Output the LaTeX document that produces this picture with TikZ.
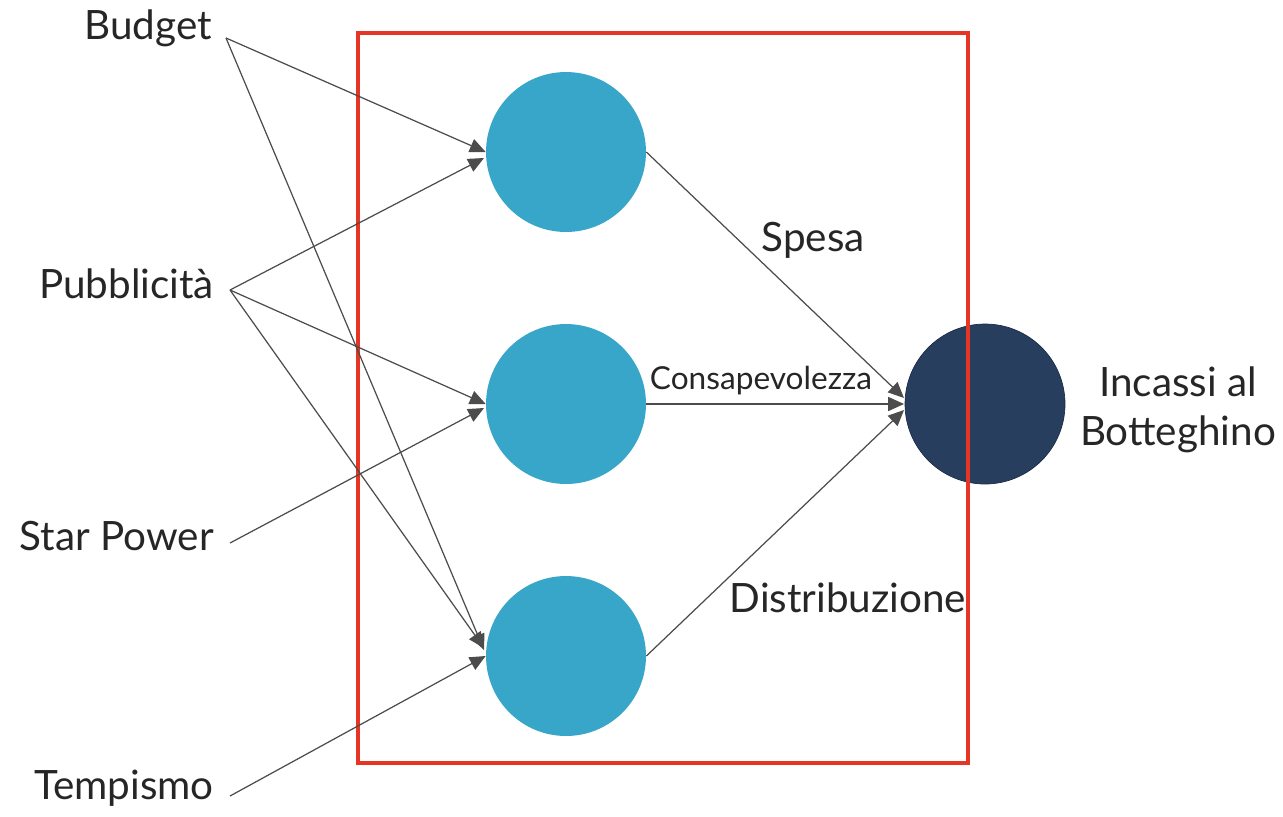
\documentclass[tikz,border=0pt]{standalone}
\usepackage{fontspec}
\setmainfont{Lato}
\usetikzlibrary{arrows.meta}
\definecolor{hid}{HTML}{38A6C8}
\definecolor{outc}{HTML}{283E5F}
\definecolor{redb}{HTML}{E53524}
\begin{document}
\begin{tikzpicture}[x=0.02cm,y=-0.02cm,
  hidn/.style={circle,fill=hid,minimum size=3.2cm,inner sep=0},
  outn/.style={circle,fill=outc,draw=outc!70!black,minimum size=3.2cm,inner sep=0},
  lab/.style={font=\fontsize{23}{28}\selectfont,text=black!85},
  conn/.style={draw=black!70,line width=0.7pt,-{Triangle[length=9pt,width=8pt]}}]
\useasboundingbox (0,0) rectangle (1283,816);
\node[hidn] (h1) at (566,152) {};
\node[hidn] (h2) at (566,404) {};
\node[hidn] (h3) at (566,656) {};
\node[outn] (o) at (985,404) {};
\draw[redb,line width=2pt] (358,33) rectangle (968,763);
\node[lab,anchor=east] (b) at (218,28) {Budget};
\node[lab,anchor=east] (p) at (220,284) {Pubblicità};
\node[lab,anchor=east] (s) at (220,536) {Star Power};
\node[lab,anchor=east] (t) at (220,788) {Tempismo};
\node[lab,align=center] (inc) at (1178,410) {Incassi al\\Botteghino};
\coordinate (bs) at (226,38);
\coordinate (ps) at (230,290);
\coordinate (ss) at (230,543);
\coordinate (ts) at (230,796);
\draw[conn] (bs) -- (h1.west);
\draw[conn] (bs) -- (484,650);
\draw[conn] (ps) -- (484,158);
\draw[conn] (ps) -- (h2.west);
\draw[conn] (ps) -- (484,648);
\draw[conn] (ss) -- (484,408);
\draw[conn] (ts) -- (h3.west);
\draw[conn] (h1.east) -- (904,398);
\draw[conn] (h2.east) -- (904,404);
\draw[conn] (h3.east) -- (904,410);
\node[lab] at (813,240) {Spesa};
\node[font=\fontsize{18}{21}\selectfont,text=black!85] at (761,381) {Consapevolezza};
\node[lab] at (848,598) {Distribuzione};
\end{tikzpicture}
\end{document}
